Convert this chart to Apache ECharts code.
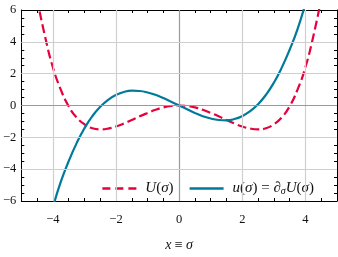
<!DOCTYPE html>
<html><head><meta charset="utf-8">
<script src="https://cdn.jsdelivr.net/npm/echarts@6/dist/echarts.min.js"></script>
<style>html,body{margin:0;padding:0;background:#fff}#c{width:338px;height:257px}</style>
</head><body><div id="c"></div>
<script>
// sigma samples for U(sigma)
const xU = [-4.5,-4.25,-4,-3.75,-3.5,-3.25,-3,-2.75,-2.5,-2.25,-2,-1.75,-1.5,-1.25,-1,-0.75,-0.5,-0.25,0,
            0.25,0.5,0.75,1,1.25,1.5,1.75,2,2.25,2.5,2.75,3,3.25,3.5,3.75,4,4.25,4.5];
const valU = [6.7,4.35,2.4,1.0,-0.05,-0.75,-1.18,-1.43,-1.5,-1.45,-1.32,-1.13,-0.91,-0.68,-0.47,-0.27,-0.12,-0.03,0,
              -0.03,-0.12,-0.27,-0.47,-0.68,-0.91,-1.13,-1.32,-1.45,-1.5,-1.43,-1.18,-0.75,-0.05,1.0,2.4,4.35,6.7];
// sigma samples for u(sigma)
const xu = [-4,-3.75,-3.5,-3.25,-3,-2.75,-2.5,-2.25,-2,-1.75,-1.5,-1.25,-1,-0.75,-0.5,-0.25,0,
            0.25,0.5,0.75,1,1.25,1.5,1.75,2,2.25,2.5,2.75,3,3.25,3.5,3.75,4];
const valu = [-6.4,-4.8,-3.5,-2.38,-1.43,-0.67,-0.08,0.36,0.66,0.85,0.93,0.91,0.82,0.67,0.47,0.24,0,
              -0.24,-0.47,-0.67,-0.82,-0.91,-0.93,-0.85,-0.66,-0.36,0.08,0.67,1.43,2.38,3.5,4.8,6.4];
const xTicks = [-4,-2,0,2,4];
const yTicks = [-4,-2,0,2,4];

const FONT = 'Liberation Serif';
const RED = '#E6003C', BLUE = '#00799B';
const fmt = v => (v < 0 ? '\u2212' : '') + Math.abs(v);
const pairs = (a, b) => a.map((x, i) => [x, b[i]]);

const mkRich = fs => ({
  i: {fontFamily: FONT, fontStyle: 'italic', fontSize: fs, color: '#111'},
  r: {fontFamily: FONT, fontSize: fs, color: '#111'},
  s: {fontFamily: FONT, fontStyle: 'italic', fontSize: Math.round(fs * 0.65), color: '#111', padding: [6, 0, 0, 0]}
});

const gridMarks = [];
xTicks.forEach(v => gridMarks.push({xAxis: v, lineStyle: {color: v === 0 ? '#9a9a9a' : '#cfcfcf', width: 1.2}}));
yTicks.forEach(v => gridMarks.push({yAxis: v, lineStyle: {color: v === 0 ? '#9a9a9a' : '#cfcfcf', width: 1.2}}));

const mkX = (pos, major) => ({
  type: 'value', min: -5, max: 5, position: pos, gridIndex: 0,
  interval: major ? 1 : 0.5,
  axisLine: {show: major, onZero: false, lineStyle: {color: '#000', width: 1}},
  axisTick: major ? {show: true, inside: true, length: 5, customValues: xTicks, lineStyle: {color: '#000'}}
                  : {show: true, inside: true, length: 3, lineStyle: {color: '#000'}},
  axisLabel: major && pos === 'bottom'
      ? {show: true, customValues: xTicks, formatter: fmt, fontFamily: FONT, fontSize: 12.5, color: '#111', margin: 12}
      : {show: false},
  splitLine: {show: false},
  name: major && pos === 'bottom' ? '{i|x} {r|\u2261} {i|\u03c3}' : '',
  nameLocation: 'middle', nameGap: 37,
  nameTextStyle: {rich: mkRich(14)}
});

const mkY = (pos) => ({
  type: 'value', min: -6, max: 6, interval: 2, position: pos, gridIndex: 0,
  axisLine: {show: true, onZero: false, lineStyle: {color: '#000', width: 1}},
  axisTick: {show: true, inside: true, length: 5, lineStyle: {color: '#000'}},
  minorTick: {show: true, splitNumber: 4, length: 3, lineStyle: {color: '#000'}},
  axisLabel: pos === 'left' ? {show: true, formatter: fmt, fontFamily: FONT, fontSize: 12.5, color: '#111', margin: 5} : {show: false},
  splitLine: {show: false}
});

const chart = echarts.init(document.getElementById('c'), null, {renderer: 'canvas'});
chart.setOption({
  animation: false,
  backgroundColor: '#fff',
  grid: {left: 20, right: 1, top: 10, bottom: 52, containLabel: false},
  xAxis: [mkX('bottom', true), mkX('bottom', false), mkX('top', true), mkX('top', false)],
  yAxis: [mkY('left'), mkY('right')],
  legend: {
    data: [
      {name: 'U', icon: 'path://M0,0H8V2.4H0Z M13,0H21V2.4H13Z M26,0H34V2.4H26Z', itemStyle: {color: RED, opacity: 1}},
      {name: 'u', icon: 'path://M0,0H34V2.4H0Z', itemStyle: {color: BLUE, opacity: 1}}
    ],
    right: 19, top: 176, itemWidth: 34, itemHeight: 12, itemGap: 16, symbolKeepAspect: true,
    textStyle: {rich: mkRich(15), padding: [0, 0, 0, 4]},
    formatter: n => n === 'U' ? '{i|U}{r|(}{i|\u03c3}{r|)}'
                              : '{i|u}{r|(}{i|\u03c3}{r|) = \u2202}{s|\u03c3}{i|U}{r|(}{i|\u03c3}{r|)}'
  },
  series: [
    {type: 'line', name: 'grid', data: [], z: 1, silent: true, symbol: 'none',
     markLine: {silent: true, symbol: 'none', label: {show: false}, animation: false,
                lineStyle: {type: 'solid'}, data: gridMarks}},
    {type: 'line', name: 'U', data: pairs(xU, valU), smooth: true, symbol: 'none', showSymbol: false, z: 3, clip: true,
     color: RED, lineStyle: {color: RED, width: 2.2, type: [9, 4]}},
    {type: 'line', name: 'u', data: pairs(xu, valu), smooth: true, symbol: 'none', showSymbol: false, z: 4, clip: true,
     color: BLUE, lineStyle: {color: BLUE, width: 2.2}}
  ]
});
</script></body></html>
